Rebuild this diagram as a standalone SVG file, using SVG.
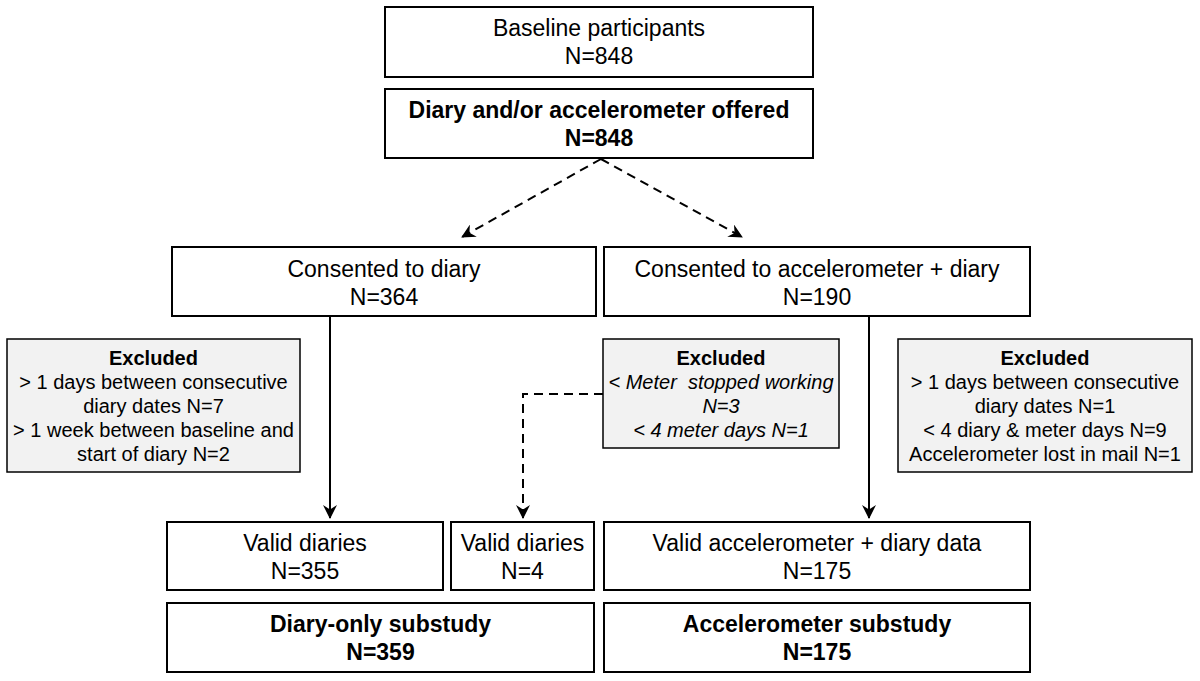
<svg xmlns="http://www.w3.org/2000/svg" width="1200" height="681" viewBox="0 0 1200 681">
<style>
.box{fill:#fff;stroke:#000;stroke-width:2}
.ex{fill:#f2f2f2;stroke:#000;stroke-width:1.5}
text{font-family:"Liberation Sans",Arial,sans-serif;fill:#000;text-anchor:middle}
.m{font-size:23px}
.b{font-weight:bold}
.s{font-size:20px}
.i{font-style:italic}
.ln{fill:none;stroke:#000;stroke-width:2}
.d{stroke-dasharray:9,6}
</style>
<defs>
<marker id="ah" viewBox="0 0 14 14" refX="13" refY="7" markerWidth="14" markerHeight="14" markerUnits="userSpaceOnUse" orient="auto">
<path d="M0,0 L14,7 L0,14 L4.5,7 Z" fill="#000"/>
</marker>
</defs>
<rect width="1200" height="681" fill="#fff"/>
<g id="connectors">
<path class="ln d" d="M601,159 L462,237" marker-end="url(#ah)"/>
<path class="ln d" d="M601,159 L742,237" marker-end="url(#ah)"/>
<path class="ln" d="M330,316 L330,518" marker-end="url(#ah)"/>
<path class="ln" d="M869,316 L869,518" marker-end="url(#ah)"/>
<path class="ln d" d="M603,394 L523,394 L523,518" marker-end="url(#ah)"/>
</g>
<g id="baseline">
<rect class="box" x="385" y="7" width="428" height="70"/>
<text class="m" x="599" y="36">Baseline participants</text>
<text class="m" x="599" y="64">N=848</text>
</g>
<g id="offered">
<rect class="box" x="385" y="89" width="428" height="69"/>
<text class="m b" x="599" y="118">Diary and/or accelerometer offered</text>
<text class="m b" x="599" y="146">N=848</text>
</g>
<g id="consent-diary">
<rect class="box" x="172" y="247" width="424" height="69"/>
<text class="m" x="384" y="277">Consented to diary</text>
<text class="m" x="384" y="305">N=364</text>
</g>
<g id="consent-accel">
<rect class="box" x="604" y="247" width="426" height="69"/>
<text class="m" x="817" y="277">Consented to accelerometer + diary</text>
<text class="m" x="817" y="305">N=190</text>
</g>
<g id="excluded-left">
<rect class="ex" x="7" y="339" width="293" height="133"/>
<text class="s b" x="153.5" y="365">Excluded</text>
<text class="s" x="153.5" y="389">&gt; 1 days between consecutive</text>
<text class="s" x="153.5" y="413">diary dates N=7</text>
<text class="s" x="153.5" y="437">&gt; 1 week between baseline and</text>
<text class="s" x="153.5" y="461">start of diary N=2</text>
</g>
<g id="excluded-mid">
<rect class="ex" x="603" y="339" width="236" height="109"/>
<text class="s b" x="721" y="365">Excluded</text>
<text class="s i" x="721" y="389" xml:space="preserve">&lt; Meter  stopped working</text>
<text class="s i" x="721" y="413">N=3</text>
<text class="s i" x="721" y="437">&lt; 4 meter days N=1</text>
</g>
<g id="excluded-right">
<rect class="ex" x="898" y="339" width="294" height="133"/>
<text class="s b" x="1045" y="365">Excluded</text>
<text class="s" x="1045" y="389">&gt; 1 days between consecutive</text>
<text class="s" x="1045" y="413">diary dates N=1</text>
<text class="s" x="1045" y="437">&lt; 4 diary &amp; meter days N=9</text>
<text class="s" x="1045" y="461">Accelerometer lost in mail N=1</text>
</g>
<g id="valid-diaries">
<rect class="box" x="167" y="522" width="276" height="68"/>
<text class="m" x="305" y="551">Valid diaries</text>
<text class="m" x="305" y="579">N=355</text>
</g>
<g id="valid-diaries-4">
<rect class="box" x="451" y="522" width="143" height="68"/>
<text class="m" x="522.5" y="551">Valid diaries</text>
<text class="m" x="522.5" y="579">N=4</text>
</g>
<g id="valid-accel">
<rect class="box" x="604" y="522" width="426" height="68"/>
<text class="m" x="817" y="551">Valid accelerometer + diary data</text>
<text class="m" x="817" y="579">N=175</text>
</g>
<g id="diary-substudy">
<rect class="box" x="167" y="603" width="427" height="69"/>
<text class="m b" x="380.5" y="632">Diary-only substudy</text>
<text class="m b" x="380.5" y="660">N=359</text>
</g>
<g id="accel-substudy">
<rect class="box" x="604" y="603" width="426" height="69"/>
<text class="m b" x="817" y="632">Accelerometer substudy</text>
<text class="m b" x="817" y="660">N=175</text>
</g>
</svg>
